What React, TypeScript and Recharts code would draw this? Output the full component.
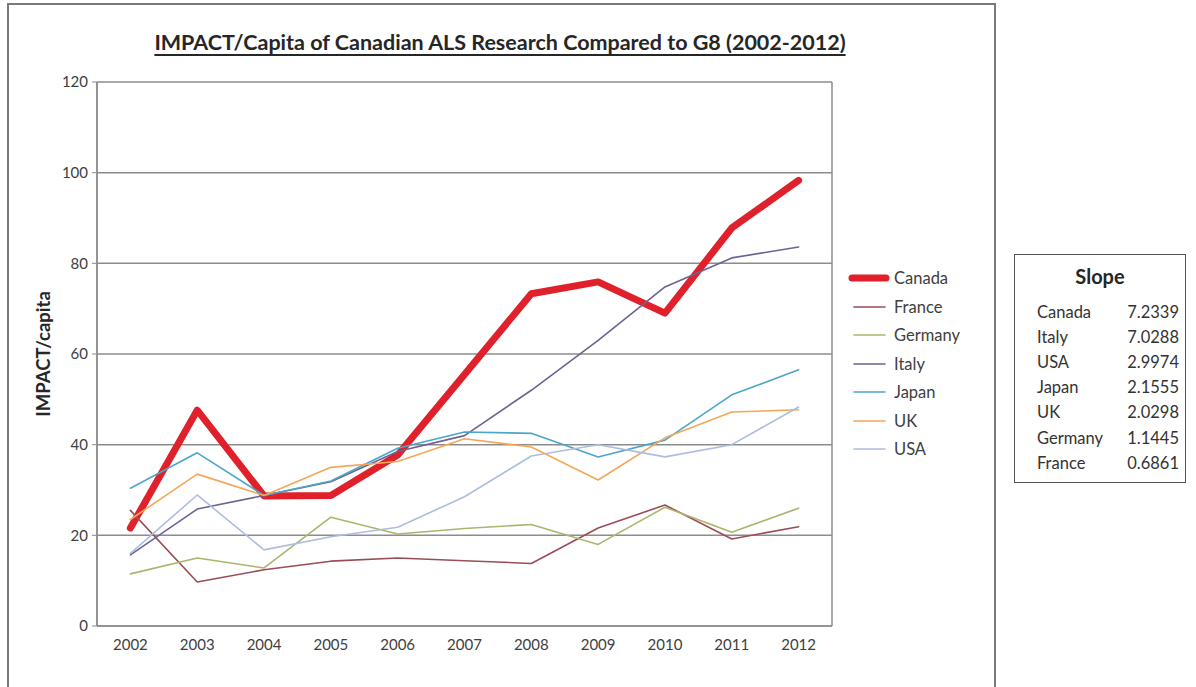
import React from "react";
import { LineChart, Line, XAxis, YAxis, CartesianGrid } from "recharts";

const years = ["2002", "2003", "2004", "2005", "2006", "2007", "2008", "2009", "2010", "2011", "2012"];
const canada = [21.6, 47.6, 28.7, 28.8, 37.7, 55.5, 73.3, 75.9, 69.0, 87.8, 98.3];
const france = [25.5, 9.7, 12.4, 14.3, 15.0, 14.4, 13.8, 21.6, 26.7, 19.2, 21.9];
const germany = [11.5, 15.0, 12.8, 24.0, 20.3, 21.5, 22.4, 18.0, 26.2, 20.7, 26.0];
const italy = [15.7, 25.8, 28.8, 31.8, 38.5, 42.0, 52.0, 63.0, 74.8, 81.2, 83.6];
const japan = [30.4, 38.2, 28.8, 32.0, 39.2, 42.8, 42.5, 37.3, 41.0, 51.0, 56.5];
const uk = [23.5, 33.5, 28.8, 35.0, 36.3, 41.3, 39.5, 32.2, 41.5, 47.2, 47.7];
const usa = [16.0, 28.9, 16.8, 19.7, 21.8, 28.5, 37.5, 40.0, 37.3, 40.0, 48.3];

const seriesNames = ["Canada", "France", "Germany", "Italy", "Japan", "UK", "USA"];
const seriesValues = [canada, france, germany, italy, japan, uk, usa];
const seriesColors = ["#e0202a", "#9c4c58", "#a9b66c", "#6c6294", "#4ca6c6", "#f2a858", "#adbde0"];
const seriesWidths = [7, 1.6, 1.6, 1.6, 1.6, 1.6, 1.6];

const yTicks = [0, 20, 40, 60, 80, 100, 120];

const slopeNames = ["Canada", "Italy", "USA", "Japan", "UK", "Germany", "France"];
const slopeValues = ["7.2339", "7.0288", "2.9974", "2.1555", "2.0298", "1.1445", "0.6861"];

const titleText = "IMPACT/Capita of Canadian ALS Research Compared to G8 (2002-2012)";
const yLabel = "IMPACT/capita";

const data = years.map((y, i) => {
  const row: Record<string, string | number> = { year: y };
  seriesNames.forEach((n, s) => {
    row[n] = seriesValues[s][i];
  });
  return row;
});

const FONT = "Lato, 'Open Sans', sans-serif";

export default function App() {
  return (
    <div style={{ position: "absolute", left: 0, top: 0, width: 1196, height: 687, background: "#fff", fontFamily: FONT }}>
      <div style={{ position: "absolute", left: 7, top: 3, width: 985, height: 682, border: "2px solid #7a7a7a" }} />
      <div
        style={{
          position: "absolute",
          left: 0,
          width: 1000,
          top: 29,
          textAlign: "center",
          fontSize: 21.5,
          fontWeight: 700,
          color: "#262626",
          textDecoration: "underline",
          textUnderlineOffset: 4,
        }}
      >
        {titleText}
      </div>
      <div style={{ position: "absolute", left: 0, top: 0 }}>
        <LineChart width={1000} height={687} data={data} margin={{ top: 82, right: 168, bottom: 31, left: 47 }}>
          <CartesianGrid
            stroke="#8c8c8c"
            strokeWidth={1.5}
            verticalCoordinatesGenerator={({ offset }: any) => [offset.left, offset.left + offset.width]}
          />
          <XAxis
            dataKey="year"
            padding={{ left: 33.4, right: 33.4 }}
            tickLine={false}
            axisLine={{ stroke: "#8c8c8c", strokeWidth: 1.5 }}
            tick={{ fill: "#404040", fontSize: 15, fontFamily: FONT }}
            tickMargin={7}
            height={30}
          />
          <YAxis
            domain={[0, 120]}
            ticks={yTicks}
            width={50}
            interval={0}
            axisLine={{ stroke: "#8c8c8c", strokeWidth: 1.5 }}
            tickLine={{ stroke: "#8c8c8c" }}
            tickSize={5}
            tickMargin={4}
            tick={{ fill: "#404040", fontSize: 15, fontFamily: FONT }}
            label={{
              content: ({ viewBox }: any) => {
                const cx = viewBox.x - 4;
                const cy = viewBox.y + viewBox.height / 2;
                return (
                  <text
                    x={cx}
                    y={cy}
                    transform={`rotate(-90 ${cx} ${cy})`}
                    textAnchor="middle"
                    dominantBaseline="central"
                    fontSize={18.5}
                    fontWeight={700}
                    fill="#262626"
                    fontFamily={FONT}
                  >
                    {yLabel}
                  </text>
                );
              },
            }}
          />
          {seriesNames.map((n, i) => (
            <Line
              key={n}
              dataKey={n}
              type="linear"
              stroke={seriesColors[i]}
              strokeWidth={seriesWidths[i]}
              strokeLinejoin="round"
              strokeLinecap="round"
              dot={false}
              activeDot={false}
              isAnimationActive={false}
            />
          ))}
        </LineChart>
      </div>
      <div style={{ position: "absolute", left: 848, top: 264 }}>
        {seriesNames.map((n, i) => (
          <div key={n} style={{ height: 28.5, display: "flex", alignItems: "center" }}>
            <svg width={42} height={10} style={{ marginRight: 4 }}>
              <line
                x1={i === 0 ? 4 : 6}
                x2={i === 0 ? 38 : 37}
                y1={5}
                y2={5}
                stroke={seriesColors[i]}
                strokeWidth={i === 0 ? 7 : 1.6}
                strokeLinecap="round"
              />
            </svg>
            <span style={{ fontSize: 16.5, color: "#404040" }}>{n}</span>
          </div>
        ))}
      </div>
      <div
        style={{
          position: "absolute",
          left: 1014,
          top: 254,
          width: 172,
          height: 229,
          border: "1.5px solid #555",
          boxSizing: "border-box",
        }}
      >
        <div style={{ textAlign: "center", fontWeight: 700, fontSize: 20, color: "#262626", marginTop: 7, height: 37, lineHeight: "28px" }}>
          Slope
        </div>
        {slopeNames.map((n, i) => (
          <div key={n} style={{ display: "flex", height: 25.2, alignItems: "center", fontSize: 16.5, color: "#333" }}>
            <span style={{ marginLeft: 22, width: 90 }}>{n}</span>
            <span style={{ width: 52, textAlign: "right" }}>{slopeValues[i]}</span>
          </div>
        ))}
      </div>
    </div>
  );
}
